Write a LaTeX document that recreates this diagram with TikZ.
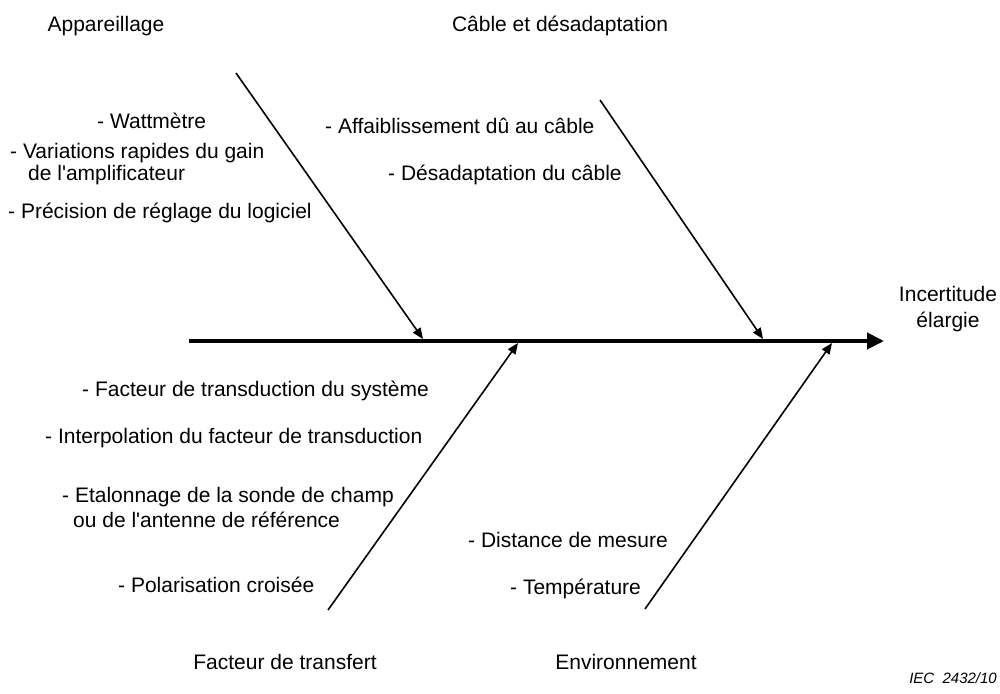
\documentclass[tikz,border=0pt]{standalone}
\usepackage{fontspec}
\setmainfont{Liberation Sans}
\usetikzlibrary{arrows.meta}
\begin{document}
\begin{tikzpicture}[x=1pt,y=-1pt,
  lbl/.style={inner sep=0pt,anchor=base west,font=\fontsize{21}{24}\selectfont},
  ttl/.style={inner sep=0pt,anchor=base,font=\fontsize{21}{24}\selectfont},
  spine/.style={line width=4pt,-{Triangle[length=17pt,width=16pt]}},
  bone/.style={line width=1.6pt,-{Triangle[length=11pt,width=9pt]}}]
\useasboundingbox (0,0) rectangle (1000,693);
% spine
\coordinate (s0) at (189,341);
\coordinate (s1) at (884,341);
\draw[spine] (s0) -- (s1);
% branches
\coordinate (b1a) at (236,73);  \coordinate (b1b) at (423,339);
\coordinate (b2a) at (600,100); \coordinate (b2b) at (763,339);
\coordinate (b3a) at (328,610); \coordinate (b3b) at (518,343);
\coordinate (b4a) at (645,609); \coordinate (b4b) at (832,343);
\draw[bone] (b1a) -- (b1b);
\draw[bone] (b2a) -- (b2b);
\draw[bone] (b3a) -- (b3b);
\draw[bone] (b4a) -- (b4b);
% titles
\node[ttl] (t1) at (106,32) {Appareillage};
\node[ttl] (t2) at (560,32) {Câble et désadaptation};
\node[ttl] (t3) at (285,669) {Facteur de transfert};
\node[ttl] (t4) at (626,669) {Environnement};
\node[inner sep=0pt,align=center,font=\fontsize{21}{26}\selectfont,anchor=base] (res) at (948,327) {Incertitude\\élargie};
\node[inner sep=0pt,anchor=base east,font=\fontsize{15}{18}\selectfont\itshape] (iec) at (997,683) {IEC~~2432/10};
% labels
\node[lbl] (l1) at (97,128) {- Wattmètre};
\node[lbl] (l2) at (10,158) {- Variations rapides du gain};
\node[lbl] (l3) at (28,180) {de l\textquotesingle amplificateur};
\node[lbl] (l4) at (8,218) {- Précision de réglage du logiciel};
\node[lbl] (l5) at (325,133) {- Affaiblissement dû au câble};
\node[lbl] (l6) at (388,180) {- Désadaptation du câble};
\node[lbl] (l7) at (82,396) {- Facteur de transduction du système};
\node[lbl] (l8) at (45,443) {- Interpolation du facteur de transduction};
\node[lbl] (l9) at (62,502) {- Etalonnage de la sonde de champ};
\node[lbl] (l10) at (73,527) {ou de l\textquotesingle antenne de référence};
\node[lbl] (l11) at (118,592) {- Polarisation croisée};
\node[lbl] (l12) at (468,547) {- Distance de mesure};
\node[lbl] (l13) at (510,594) {- Température};
\end{tikzpicture}
\end{document}
